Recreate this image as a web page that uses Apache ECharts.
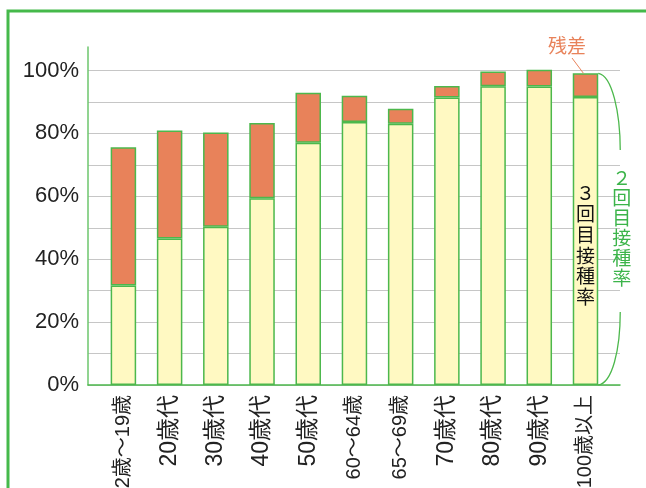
<!DOCTYPE html>
<html><head><meta charset="utf-8">
<script src="https://cdn.jsdelivr.net/npm/echarts@6/dist/echarts.min.js"></script>
<style>html,body{margin:0;padding:0;background:#fff}#c{width:646px;height:488px}</style>
</head><body><div id="c"></div>
<script>
const categories = ['12歳～19歳','20歳代','30歳代','40歳代','50歳代','60～64歳','65～69歳','70歳代','80歳代','90歳代','100歳以上'];
const dose3 = [31.6, 46.6, 50.3, 59.4, 77.0, 83.6, 83.1, 91.4, 95.0, 94.9, 91.6];
const residual = [44.0, 34.3, 30.0, 23.9, 15.9, 8.4, 4.7, 3.7, 4.7, 6.1, 7.5];
const yTicks = [0, 20, 40, 60, 80, 100];

const GREEN = '#4cb84c';
const chart = echarts.init(document.getElementById('c'), null, {renderer: 'canvas'});
const latin = "'Liberation Sans', 'Noto Sans CJK JP', sans-serif";
const jp = "'Noto Sans CJK JP', sans-serif";
const gridBase = {containLabel: false, outerBoundsMode: 'none'};

chart.setOption({
  animation: false,
  grid: [
    Object.assign({left: 100.3, right: 37.4, top: 70.5, bottom: 103}, gridBase),
    Object.assign({left: 88, right: 26, top: 70.5, bottom: 103}, gridBase),
    Object.assign({left: 88, right: 26, top: 47, bottom: 103}, gridBase)
  ],
  xAxis: [
    {type: 'category', gridIndex: 0, data: categories,
     axisLine: {show: false}, axisTick: {show: false},
     axisLabel: {rotate: 90, margin: 10, fontSize: 23, color: '#222', fontFamily: latin, interval: 0,
       formatter: v => v.length > 4 ? '{s|' + v + '}' : v,
       rich: {s: {fontSize: 20, color: '#222', fontFamily: latin}}}},
    {type: 'value', gridIndex: 1, min: 0, max: 1,
     axisLine: {show: true, lineStyle: {color: GREEN, width: 1.5}},
     axisLabel: {show: false}, axisTick: {show: false}, splitLine: {show: false}},
    {type: 'value', gridIndex: 2, min: 0, max: 1, show: false}
  ],
  yAxis: [
    {type: 'value', gridIndex: 0, min: 0, max: 100, show: false},
    {type: 'value', gridIndex: 1, min: 0, max: 100, interval: 10,
     axisLine: {show: false}, axisTick: {show: false},
     splitLine: {show: true, lineStyle: {color: '#c6c6c6', width: 1.2}},
     axisLabel: {margin: 9, fontSize: 22, color: '#222', fontFamily: latin,
       formatter: v => yTicks.includes(v) ? v + '%' : ''}},
    {type: 'value', gridIndex: 2, min: 0, max: 1,
     axisLine: {show: true, lineStyle: {color: '#6cc66c', width: 1.5}},
     axisLabel: {show: false}, axisTick: {show: false}, splitLine: {show: false}}
  ],
  series: [
    {name: '3回目接種率', type: 'bar', stack: 'a', xAxisIndex: 0, yAxisIndex: 0, barWidth: 25.5,
     data: dose3, itemStyle: {color: '#fff9c2', borderColor: GREEN, borderWidth: 1.5}},
    {name: '残差', type: 'bar', stack: 'a', xAxisIndex: 0, yAxisIndex: 0, barWidth: 25.5,
     data: residual, itemStyle: {color: '#e8825a', borderColor: GREEN, borderWidth: 1.5}}
  ]
});

// Annotation positions anchored to the last bar
const last = categories.length - 1;
const total = dose3[last] + residual[last];
const pTop = chart.convertToPixel({gridIndex: 0}, [last, total]);
const pBot = chart.convertToPixel({gridIndex: 0}, [last, 0]);
const cx = pTop[0], topY = pTop[1], botY = pBot[1];
const right = cx + 12.75;
const bx = right + 22;
const braceTopEnd = 150, braceBotStart = 312;

chart.setOption({
  graphic: [
    {type: 'polyline', shape: {points: [[8, 488], [8, 11], [646, 11]]}, style: {stroke: '#45b94b', lineWidth: 3, fill: null}, z: 100},
    {type: 'text', style: {text: '残差', x: 567, y: 46, align: 'center', verticalAlign: 'middle', fontSize: 19, fill: '#e8825a', fontFamily: jp}, z: 100},
    {type: 'line', shape: {x1: 572, y1: 58, x2: cx - 2, y2: topY}, style: {stroke: '#e8825a', lineWidth: 1}, z: 100},
    {type: 'bezierCurve', shape: {x1: right, y1: topY, cpx1: right + 14, cpy1: topY + 2, cpx2: bx, cpy2: topY + 40, x2: bx, y2: braceTopEnd}, style: {stroke: GREEN, lineWidth: 1.3, fill: null}, z: 100},
    {type: 'bezierCurve', shape: {x1: bx, y1: braceBotStart, cpx1: bx, cpy1: botY - 35, cpx2: right + 14, cpy2: botY - 2, x2: right, y2: botY}, style: {stroke: GREEN, lineWidth: 1.3, fill: null}, z: 100},
    {type: 'text', style: {text: '３\n回\n目\n接\n種\n率', x: cx, y: 245, align: 'center', verticalAlign: 'middle', fontSize: 19, lineHeight: 20.7, fill: '#111', fontFamily: jp}, z: 100},
    {type: 'text', style: {text: '２\n回\n目\n接\n種\n率', x: bx + 1.5, y: 228, align: 'center', verticalAlign: 'middle', fontSize: 19, lineHeight: 20, fill: '#3cb44a', fontFamily: jp}, z: 100}
  ]
});
</script></body></html>
